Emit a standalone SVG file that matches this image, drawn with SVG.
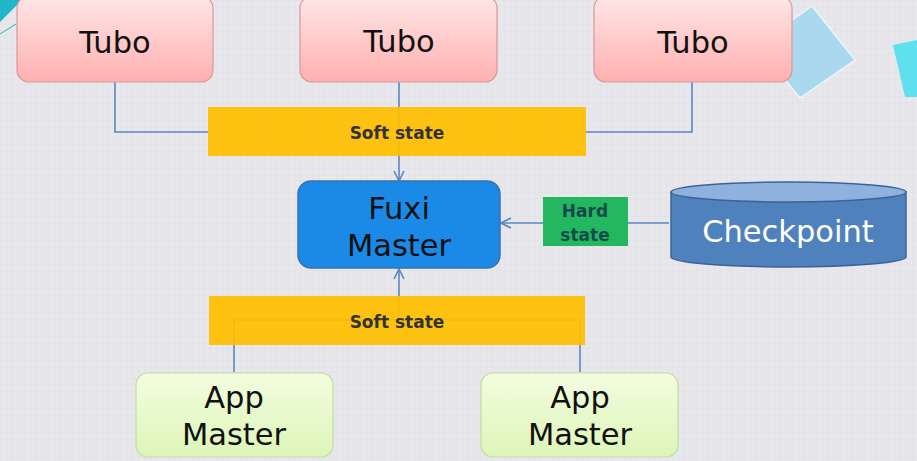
<svg xmlns="http://www.w3.org/2000/svg" width="917" height="461" viewBox="0 0 917 461">
<defs>
<pattern id="grid" width="6" height="6" patternUnits="userSpaceOnUse">
<path d="M6 0H0V6" fill="none" stroke="#d9d9de" stroke-width="0.6"/>
</pattern>
<linearGradient id="pink" x1="0" y1="0" x2="0" y2="1">
<stop offset="0" stop-color="#ffe6e6"/>
<stop offset="1" stop-color="#ffb0b0"/>
</linearGradient>
<linearGradient id="green" x1="0" y1="0" x2="0" y2="1">
<stop offset="0" stop-color="#f3fde0"/>
<stop offset="1" stop-color="#ddf5b8"/>
</linearGradient>
<marker id="arr" viewBox="0 0 12 12" refX="11" refY="6" markerWidth="12" markerHeight="12" markerUnits="userSpaceOnUse" orient="auto">
<path d="M1 1L11 6L1 11" fill="none" stroke="#5b86c0" stroke-width="1.6"/>
</marker>
</defs>
<style>
.t{font-family:"DejaVu Sans","Open Sans","Liberation Sans",sans-serif;text-anchor:middle}
.big{font-size:30.5px;fill:#111}
.bold{font-size:17px;font-weight:bold}
.tubo{fill:url(#pink);stroke:#d9979a;stroke-width:1.2}
.app{fill:url(#green);stroke:#c3dca0;stroke-width:1.2}
.ln{fill:none;stroke:#5b86c0;stroke-width:1.6}
.bar{fill:#ffc000;fill-opacity:0.93}
</style>
<rect width="917" height="461" fill="#e8e8ec"/>
<rect width="917" height="461" fill="url(#grid)"/>
<g id="decor">
<polygon points="0,0 22,0 0,22" fill="#22b4c8"/>
<line x1="16" y1="24" x2="0" y2="34" stroke="#22b4c8" stroke-width="1"/>
<polygon points="757,45 812,6 855,60 800,98" fill="#a9d8ef" stroke="#eef6fb" stroke-width="1.5"/>
<polygon points="893,45 917,40 917,97 905,97" fill="#5fe0ee"/>
</g>
<g id="connectors">
<polyline class="ln" points="115,82 115,132 208,132"/>
<polyline class="ln" points="692,82 692,132 585,132"/>
<line class="ln" x1="399" y1="82" x2="399" y2="181" marker-end="url(#arr)"/>
<line class="ln" x1="669" y1="223" x2="501" y2="223" marker-end="url(#arr)"/>
<polyline class="ln" points="234,372 234,320 580,320 580,372"/>
<line class="ln" x1="399" y1="320" x2="399" y2="269" marker-end="url(#arr)"/>
</g>
<g id="tubo1"><rect class="tubo" x="17" y="-4" width="196" height="86" rx="12"/><text class="t big" x="115" y="53" font-size="29">Tubo</text></g>
<g id="tubo2"><rect class="tubo" x="300" y="-4" width="197" height="86" rx="12"/><text class="t big" x="399" y="52" font-size="29">Tubo</text></g>
<g id="tubo3"><rect class="tubo" x="594" y="-4" width="198" height="86" rx="12"/><text class="t big" x="693" y="53" font-size="29">Tubo</text></g>
<g id="soft1"><rect class="bar" x="208" y="107" width="378" height="49"/><text class="t bold" x="397" y="139" fill="#333">Soft state</text></g>
<g id="fuxi"><rect x="298" y="181" width="202" height="87" rx="13" fill="#1a8ae6" stroke="#3b6fb0" stroke-width="1.5"/><text class="t big" x="399" y="219">Fuxi<tspan x="399" dy="36.5">Master</tspan></text></g>
<g id="hard"><rect x="543" y="197" width="85" height="49" fill="#23b85f"/><text class="t bold" x="585" y="217" fill="#114a4a">Hard<tspan x="585" dy="24">state</tspan></text></g>
<g id="checkpoint">
<path d="M671 192V257A117.5 10 0 0 0 906 257V192Z" fill="#4f81bd" stroke="#3a6497" stroke-width="1.5"/>
<ellipse cx="788.5" cy="192" rx="117.5" ry="10" fill="#8fb1de" stroke="#3a6497" stroke-width="1.5"/>
<text class="t" x="788" y="242" font-size="30.5" fill="#ffffff">Checkpoint</text>
</g>
<g id="soft2"><rect class="bar" x="209" y="296" width="376" height="49"/><text class="t bold" x="397" y="328" fill="#333">Soft state</text></g>
<g id="app1"><rect class="app" x="136" y="373" width="197" height="84" rx="12"/><text class="t big" x="234" y="408">App<tspan x="234" dy="36.5">Master</tspan></text></g>
<g id="app2"><rect class="app" x="481" y="373" width="197" height="84" rx="12"/><text class="t big" x="580" y="408">App<tspan x="580" dy="36.5">Master</tspan></text></g>
</svg>
